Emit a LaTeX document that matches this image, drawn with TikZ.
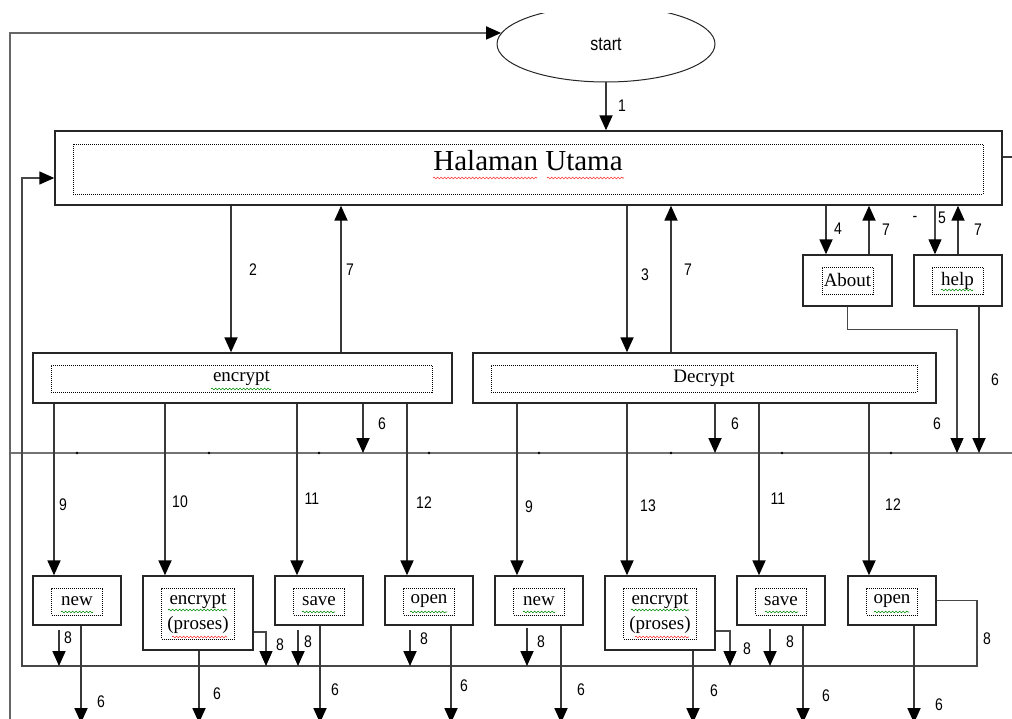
\documentclass[tikz,border=0pt]{standalone}
\usepackage{fontspec}
\setmainfont{Liberation Serif}
\newfontfamily\numfont{Liberation Sans}
\usetikzlibrary{arrows.meta,shapes.geometric,decorations.pathmorphing,calc}

% digits in the labels are drawn a little taller than wide
\newcommand\tallnum[1]{\scalebox{1}[1.2]{#1}}

\tikzset{
  ln/.style={draw=black!78, line width=1.8pt},
  thinline/.style={draw=black!72, line width=1.1pt},
  headtip/.style={-{Triangle[width=13pt,length=15pt,color=black]}},
  arr/.style={ln, headtip},
  outerbox/.style={rectangle, draw=black!85, line width=1.4pt, inner sep=0pt},
  innerbox/.style={rectangle, draw=black, line width=0.8pt, dash pattern=on 1pt off 1pt,
    inner sep=0pt, align=center, font=\fontsize{19}{25}\selectfont},
  lbl/.style={inner sep=0pt, font=\numfont\fontsize{14}{14}\selectfont},
  squig/.style={draw=#1, line width=0.6pt, decorate,
    decoration={snake, segment length=3.5pt, amplitude=0.9pt}},
  bar/.style={draw=black!55, line width=2pt}
}
\colorlet{spellred}{red!80}
\colorlet{spellgreen}{green!55!black}

\begin{document}
\begin{tikzpicture}[x=1pt,y=-1pt]
\useasboundingbox (0,0) rectangle (1012,719);
\clip (0,0) rectangle (1012,719);

% ---- start terminator (its top runs off the page) ----
\begin{scope}
  \clip (400,14) rectangle (820,100);
  \node[ellipse, draw=black!85, line width=1pt, minimum width=218pt, minimum height=76pt,
        inner sep=0pt, font=\numfont\fontsize{16}{16}\selectfont] (st) at (606,44) {\tallnum{start}};
\end{scope}

% ---- main page ----
\node[outerbox, minimum width=947pt, minimum height=74pt] (hu) at (528.5,168) {};
\node[innerbox, minimum width=910pt, minimum height=50pt] (huin) at (528,169) {};
\node[inner sep=0pt, font=\fontsize{29}{29}\selectfont] (hut) at (528,161) {Halaman Utama};

% ---- encrypt / decrypt pages ----
\node[outerbox, minimum width=419pt, minimum height=50pt] (enc) at (242.5,378) {};
\node[innerbox, minimum width=381pt, minimum height=27pt] (encin) at (241.5,378.5) {encrypt};
\node[outerbox, minimum width=463pt, minimum height=50pt] (dec) at (704.5,378) {};
\node[innerbox, minimum width=426pt, minimum height=27pt] (decin) at (704,378.5) {Decrypt};

% ---- about / help ----
\node[outerbox, minimum width=89pt, minimum height=51pt] (about) at (847.5,280.5) {};
\node[innerbox, minimum width=51pt, minimum height=27pt] (aboutin) at (847.5,280.5) {About};
\node[outerbox, minimum width=88pt, minimum height=51pt] (help) at (958,280.5) {};
\node[innerbox, minimum width=51pt, minimum height=27pt] (helpin) at (957.5,280.5) {help};

% ---- menu items ----
\foreach \n/\x/\t in {new1/77/new, save1/319/save, open1/429/open,
                      new2/539/new, save2/781/save, open2/892/open} {
  \node[outerbox, minimum width=88pt, minimum height=49pt] (\n) at (\x,600.5) {};
  \node[innerbox, minimum width=51pt, minimum height=27pt] (\n in) at (\x,601.5) {\t};
}
\foreach \n/\x in {enc1/198, enc2/660} {
  \node[outerbox, minimum width=110pt, minimum height=74pt] (\n) at (\x,613) {};
  \node[innerbox, minimum width=73pt, minimum height=51pt] (\n in) at (\x,613.5) {encrypt\\(proses)};
}

% ---- spelling marks under the words ----
\draw[squig=spellred] (433,178) -- (537,178);
\draw[squig=spellred] (547,178) -- (624,178);
\draw[squig=spellgreen] (211,389) -- (271,389);
\draw[squig=spellgreen] (941,290) -- (973,290);
\foreach \a/\b in {61/93, 302/335, 410/447, 523/555, 765/798, 874/909}
  \draw[squig=spellgreen] (\a,612) -- (\b,612);
\foreach \a/\b in {168/227, 631/689} {
  \draw[squig=spellgreen] (\a,610) -- (\b,610);
  \draw[squig=spellred] (\a+4,637) -- (\b,637);
}

% ---- shared lines ----
\coordinate (barL) at (10,453);
\coordinate (barR) at (1012,453);
\draw[bar] (barL) -- (barR);
\foreach \x in {77,209,319,429,539,671,782,891}
  \fill[black] (\x,453) circle[radius=1.3pt];

\coordinate (lb) at (10,725);
\draw[draw=black!60, line width=1.8pt, headtip] (lb) |- (st.174);

\coordinate (hr) at (1012,157);
\draw[ln] (hu.east |- hr) -- (hr);

% ---- flows ----
\draw[arr] (st.south) -- (st.south |- hu.north);
\draw[arr] (231,0 |- hu.south) -- (231,0 |- enc.north);
\draw[arr] (341,0 |- enc.north) -- (341,0 |- hu.south);
\draw[arr] (627,0 |- hu.south) -- (627,0 |- dec.north);
\draw[arr] (671,0 |- dec.north) -- (671,0 |- hu.south);
\draw[arr] (826,0 |- hu.south) -- (826,0 |- about.north);
\draw[arr] (869,0 |- about.north) -- (869,0 |- hu.south);
\draw[thinline, headtip] (935,0 |- hu.south) -- (935,0 |- help.north);
\draw[arr] (958,0 |- help.north) -- (958,0 |- hu.south);

\draw[thinline, headtip] (about.south) -- ++(0,23) -| (957,0 |- barL);
\draw[arr] (979,0 |- help.south) -- (979,0 |- barL);
\draw[arr] (363,0 |- enc.south) -- (363,0 |- barL);
\draw[arr] (715,0 |- dec.south) -- (715,0 |- barL);

\foreach \x/\n in {54/new1, 165/enc1, 297/save1, 407/open1}
  \draw[arr] (\x,0 |- enc.south) -- (\x,0 |- \n.north);
\foreach \x/\n in {517/new2, 627/enc2, 759/save2, 869/open2}
  \draw[arr] (\x,0 |- dec.south) -- (\x,0 |- \n.north);

% return path back to the main page
\coordinate (r8) at (977,666);
\coordinate (l8) at (22,666);
\draw[thinline, line width=1.4pt, headtip] (open2.east) -| (r8) -- (l8) |- (hu.west |- 0,178);

\foreach \x/\y in {59/630, 298/630, 410/630, 527/628, 770/629} {
  \coordinate (e) at (\x,\y);
  \draw[arr] (e) -- (e |- l8);
}
\draw[thinline, headtip] (enc1.east |- 0,632) -| (266,0 |- l8);
\draw[thinline, headtip] (enc2.east |- 0,631) -| (730,0 |- l8);

\coordinate (bot) at (0,723);
\foreach \x/\n in {81/new1, 199/enc1, 320/save1, 451/open1, 561/new2, 693/enc2, 803/save2, 914/open2}
  \draw[arr] (\x,0 |- \n.south) -- (\x,0 |- bot);

% ---- labels ----
\foreach \nm/\x/\y/\t in {
    t1/622/106/1, t2/253/270/2, t7a/350/270/7, t3/645/275/3, t7b/688/270/7,
    t4/838/229/4, t7c/886/230/7, tdash/915/219/-, t5/942/218/5, t7d/978/230/7,
    t6a/382/424/6, t6b/735/424/6, t6c/937/424/6, t6d/995/380/6,
    t9a/63/505/9, t10/180/502/10, t11a/312/499/11, t12a/424/503/12,
    t9b/529/507/9, t13/648/506/13, t11b/778/499/11, t12b/893/505/12,
    t8a/68/638/8, t8b/280/645/8, t8c/308/642/8, t8d/424/639/8,
    t8e/541/642/8, t8f/747/649/8, t8g/790/642/8, t8h/987/639/8,
    t6e/101/702/6, t6f/217/694/6, t6g/335/690/6, t6h/464/686/6,
    t6i/581/690/6, t6j/714/691/6, t6k/826/696/6, t6l/939/705/6}
  \node[lbl] (\nm) at (\x,\y) {\tallnum{\t}};
\end{tikzpicture}
\end{document}
